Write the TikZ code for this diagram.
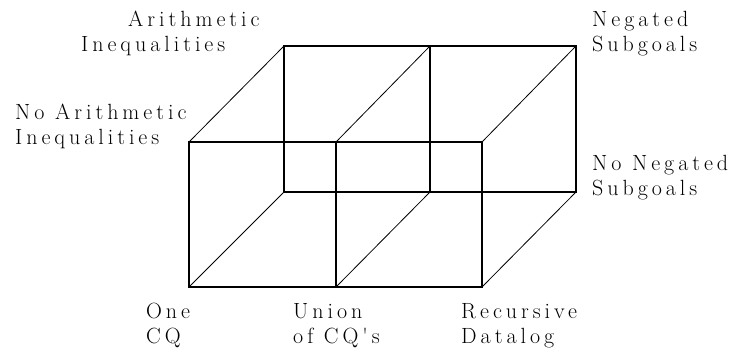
\documentclass[tikz,border=0pt]{standalone}
\usepackage{fontspec}
\newfontfamily\labfont{Latin Modern Roman}[LetterSpace=18]
\newcommand\twolines[2]{\vtop{\baselineskip=25pt\hbox{#1}\hbox{#2}}}
\tikzset{
  faceedge/.style={line width=2.8pt, line join=miter},
  depthedge/.style={line width=0.8pt},
  lab/.style={font=\fontsize{22pt}{25pt}\labfont, inner sep=0pt, anchor=base west}
}
\begin{document}
\begin{tikzpicture}[x=1pt,y=-1pt]
\useasboundingbox (0,0) rectangle (741,358);
% front face corners
\coordinate (f1) at (189,142); \coordinate (f2) at (336,142); \coordinate (f3) at (482,142);
\coordinate (g1) at (189,287); \coordinate (g2) at (336,287); \coordinate (g3) at (482,287);
% back face corners
\coordinate (b1) at (284,46); \coordinate (b2) at (430,46); \coordinate (b3) at (576,46);
\coordinate (c1) at (284,192); \coordinate (c2) at (430,192); \coordinate (c3) at (576,192);
% depth edges
\draw[depthedge] (f1) -- (b1) (f2) -- (b2) (f3) -- (b3)
                 (g1) -- (c1) (g2) -- (c2) (g3) -- (c3);
% back face
\draw[faceedge] (b1) rectangle (c3) (b2) -- (c2);
% front face
\draw[faceedge] (f1) rectangle (g3) (f2) -- (g2);
% labels
\node[lab] (ai) at (81,27) {\twolines{\hspace*{47pt}Arithmetic}{Inequalities}};
\node[lab] (nai) at (15,120) {\twolines{No Arithmetic}{Inequalities}};
\node[lab] (ns) at (592,27) {\twolines{Negated}{Subgoals}};
\node[lab] (nns) at (592,171) {\twolines{No Negated}{Subgoals}};
\node[lab] (one) at (146,318) {\twolines{One}{CQ}};
\node[lab] (ucq) at (293,318) {\twolines{Union}{of CQ's}};
\node[lab] (rec) at (461,318) {\twolines{Recursive}{Datalog}};
\end{tikzpicture}
\end{document}
